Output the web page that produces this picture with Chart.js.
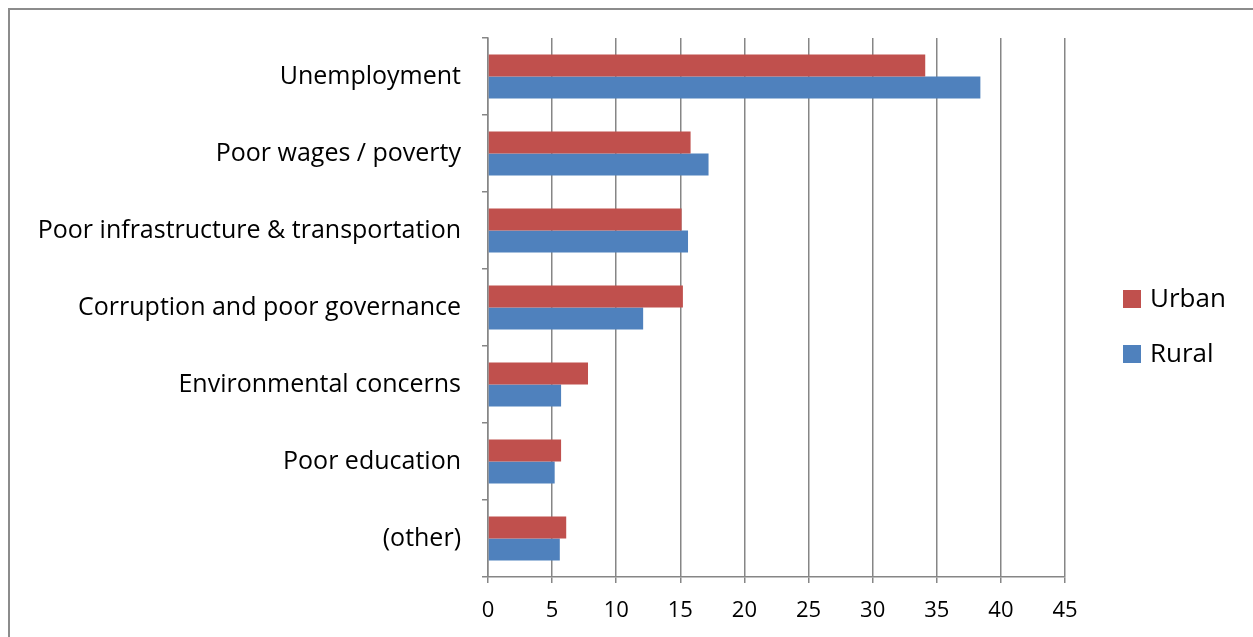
<!DOCTYPE html>
<html>
<head>
<meta charset="utf-8">
<script src="https://cdn.jsdelivr.net/npm/chart.js@4/dist/chart.umd.min.js"></script>
<style>
  html, body { margin: 0; padding: 0; background: #fff; }
  #wrap { position: relative; width: 1253px; height: 637px; overflow: hidden; }
  #frame { position: absolute; left: 8px; top: 8px; width: 1300px; height: 700px; border: 2px solid #8c8c8c; box-sizing: border-box; pointer-events: none; }
  canvas { position: absolute; left: 0; top: 0; }
</style>
</head>
<body>
<div id="wrap">
  <canvas id="c" width="1253" height="637"></canvas>
  <div id="frame"></div>
</div>
<script>
const categories = [
  "Unemployment",
  "Poor wages / poverty",
  "Poor infrastructure & transportation",
  "Corruption and poor governance",
  "Environmental concerns",
  "Poor education",
  "(other)"
];
const seriesNames = ["Urban", "Rural"];
const urbanValues = [34.1, 15.8, 15.1, 15.2, 7.8, 5.7, 6.1];
const ruralValues = [38.4, 17.2, 15.6, 12.1, 5.7, 5.2, 5.6];
const xTicks = [0, 5, 10, 15, 20, 25, 30, 35, 40, 45];

const colors = ["#C0504D", "#4F81BD"];
const FONT = "'Open Sans', 'DejaVu Sans', sans-serif";

const legendPlugin = {
  id: 'customLegend',
  afterDraw(chart) {
    const ctx = chart.ctx;
    ctx.save();
    ctx.font = "26px " + FONT;
    ctx.textBaseline = 'middle';
    ctx.textAlign = 'left';
    chart.data.datasets.forEach((ds, i) => {
      const cy = 299 + i * 55;
      ctx.fillStyle = ds.backgroundColor;
      ctx.fillRect(1123, cy - 9, 18, 18);
      ctx.fillStyle = '#000';
      ctx.fillText(ds.label, 1150, cy + 1);
    });
    ctx.restore();
  }
};

new Chart(document.getElementById('c'), {
  type: 'bar',
  data: {
    labels: categories,
    datasets: [
      { label: seriesNames[0], data: urbanValues, backgroundColor: colors[0] },
      { label: seriesNames[1], data: ruralValues, backgroundColor: colors[1] }
    ]
  },
  options: {
    indexAxis: 'y',
    responsive: false,
    animation: false,
    devicePixelRatio: 1,
    categoryPercentage: 0.571,
    barPercentage: 1.0,
    layout: { padding: { top: 38, right: 188, left: 0, bottom: 0 } },
    plugins: { legend: { display: false }, tooltip: { enabled: false } },
    scales: {
      x: {
        type: 'linear',
        min: 0, max: 45,
        afterBuildTicks(scale) { scale.ticks = xTicks.map(v => ({ value: v })); },
        afterFit(scale) { scale.height = 60; },
        grid: { color: '#868686', lineWidth: 1.5, drawTicks: true, tickLength: 6 },
        border: { display: true, color: '#868686', width: 1.5 },
        ticks: { color: '#000', font: { size: 22, family: FONT }, padding: 15, maxRotation: 0 }
      },
      y: {
        type: 'category',
        afterFit(scale) { scale.width = 488; },
        grid: { offset: true, drawOnChartArea: false, drawTicks: true, tickLength: 6, color: '#868686', lineWidth: 1.5 },
        border: { display: true, color: '#868686', width: 1.5 },
        ticks: { color: '#000', font: { size: 25, family: FONT }, padding: 21, autoSkip: false }
      }
    }
  },
  plugins: [legendPlugin]
});
</script>
</body>
</html>
